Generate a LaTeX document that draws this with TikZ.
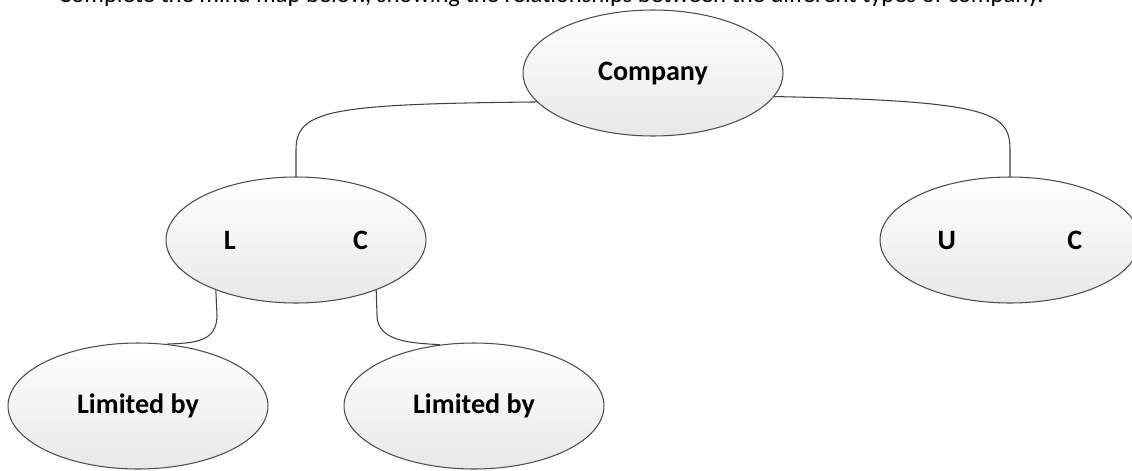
\documentclass[tikz,border=0pt]{standalone}
\usepackage{fontspec}
\setmainfont{Carlito}
\usetikzlibrary{shapes.geometric}
\begin{document}
\begin{tikzpicture}
			[x=0.02cm,y=-0.02cm,
			bubble/.style={ellipse,draw=black!70,line width=0.6pt,top color=white,bottom color=black!9,minimum width=5.2cm,minimum height=2.52cm,inner sep=0pt,font=\fontsize{16}{19}\selectfont\bfseries},
			link/.style={draw=black!75,line width=0.6pt}]
			\useasboundingbox (0,0) rectangle (1132,470);
			\node[anchor=base,font=\fontsize{14}{17}\selectfont,name=title]at(551,3){Complete the mind map below, showing the relationships between the different types of company.};
			\node[bubble,name=co]at(653,73){Company};
			\node[bubble,name=lc]at(296,240){L\hspace{2.35cm}C};
			\node[bubble,name=uc]at(1010,240){U\hspace{2.23cm}C};
			\node[bubble,name=lb1]at(138,406){Limited by};
			\node[bubble,name=lb2]at(474,406){Limited by};
			\draw[link] (co.194) .. controls (330,104) and (296,110) .. (296,150) -- (lc.north);
			\draw[link] (co.349) .. controls (990,101) and (1010,112) .. (1010,150) -- (uc.north);
			\draw[link] (lc.212) -- (217,315) .. controls (217,342) and (195,343) .. (lb1.65);
			\draw[link] (lc.328) -- (377,315) .. controls (377,342) and (412,343) .. (lb2.119);
		\end{tikzpicture}
\end{document}
